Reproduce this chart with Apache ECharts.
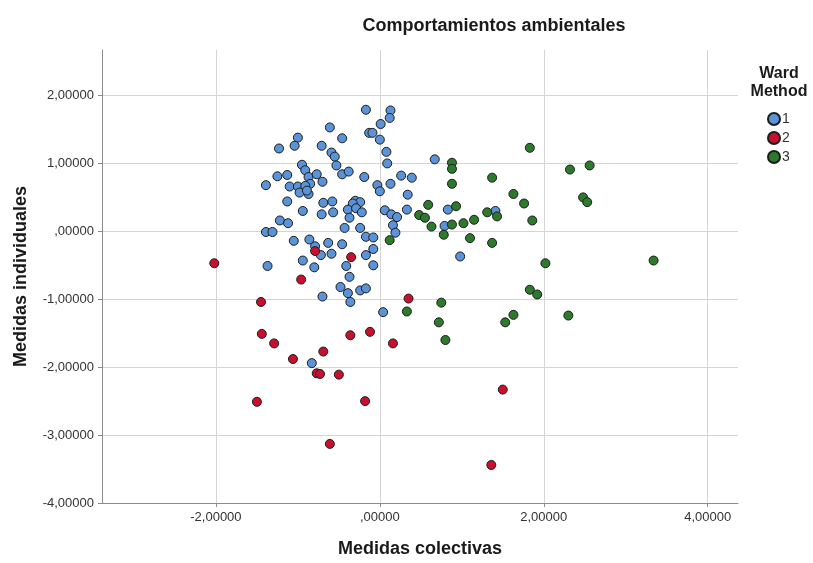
<!DOCTYPE html>
<html>
<head>
<meta charset="utf-8">
<script src="https://cdn.jsdelivr.net/npm/echarts@6/dist/echarts.min.js"></script>
<style>
  html, body { margin: 0; padding: 0; background: #ffffff; }
  #chart { width: 813px; height: 563px; }
</style>
</head>
<body>
<div id="chart"></div>
<script>
// Cluster scores: [Medidas colectivas, Medidas individuales]
const cluster1 = [
  [-0.17,1.79],[0.13,1.78],[0.12,1.67],[0.01,1.58],[-0.61,1.53],[-1.00,1.38],[-0.46,1.37],
  [-0.13,1.45],[-0.09,1.45],[0.00,1.35],[-1.23,1.22],[-1.04,1.26],[-0.71,1.26],[-0.59,1.16],
  [-0.55,1.10],[0.08,1.17],[0.09,1.00],[0.67,1.06],[-0.95,0.98],[-0.53,0.97],[-0.91,0.90],
  [-0.46,0.84],[-0.38,0.88],[-0.87,0.80],[-0.77,0.84],[-1.25,0.81],[-1.13,0.83],[-0.19,0.80],
  [0.26,0.82],[0.39,0.79],[-1.39,0.68],[-0.85,0.70],[-0.70,0.73],[-1.10,0.66],[-1.00,0.66],
  [-0.91,0.67],[-0.03,0.68],[0.13,0.70],[0.00,0.59],[-0.98,0.57],[-0.87,0.55],[-0.89,0.60],
  [0.34,0.54],[-1.13,0.44],[-0.69,0.42],[-0.58,0.44],[-0.30,0.45],[-0.24,0.43],[-0.33,0.41],
  [-0.94,0.30],[-0.71,0.25],[-0.57,0.28],[-0.39,0.32],[-0.29,0.34],[-0.22,0.28],[-0.37,0.20],
  [0.06,0.31],[0.14,0.25],[0.21,0.21],[0.33,0.32],[0.83,0.32],[1.41,0.30],[-1.22,0.16],
  [-1.12,0.12],[-0.43,0.05],[-0.24,0.05],[0.16,0.09],[0.19,-0.02],[0.79,0.08],[-1.39,-0.01],
  [-1.31,-0.01],[-0.17,-0.08],[-0.08,-0.09],[-1.05,-0.14],[-0.86,-0.12],[-0.63,-0.17],
  [-0.46,-0.19],[-0.79,-0.22],[-0.72,-0.35],[-0.59,-0.33],[-0.08,-0.26],[-0.17,-0.35],
  [0.98,-0.37],[-0.94,-0.43],[-1.37,-0.51],[-0.80,-0.53],[-0.41,-0.51],[-0.08,-0.50],
  [-0.37,-0.67],[-0.48,-0.82],[-0.39,-0.91],[-0.24,-0.87],[-0.17,-0.84],[-0.70,-0.96],
  [-0.36,-1.04],[0.04,-1.19],[-0.83,-1.94]
];
const cluster2 = [
  [-2.02,-0.47],[-0.79,-0.29],[-0.35,-0.38],[-0.96,-0.71],[-1.45,-1.04],[0.35,-0.99],
  [-1.44,-1.51],[-1.29,-1.65],[-0.36,-1.53],[-0.12,-1.48],[0.16,-1.65],[-1.06,-1.88],
  [-0.69,-1.77],[-0.77,-2.09],[-0.73,-2.10],[-0.50,-2.11],[-1.50,-2.51],[-0.18,-2.50],
  [1.50,-2.33],[-0.61,-3.13],[1.36,-3.44]
];
const cluster3 = [
  [1.83,1.23],[0.88,1.01],[0.88,0.92],[2.56,0.97],[2.32,0.91],[1.37,0.79],[0.88,0.70],
  [1.63,0.55],[2.48,0.50],[2.53,0.43],[1.76,0.41],[0.59,0.39],[0.93,0.37],[1.31,0.28],
  [1.43,0.22],[0.48,0.24],[0.55,0.20],[1.15,0.17],[1.86,0.16],[1.02,0.12],[0.88,0.10],
  [0.63,0.07],[0.78,-0.05],[1.10,-0.10],[0.12,-0.13],[1.37,-0.17],[2.02,-0.47],[3.34,-0.43],
  [1.83,-0.86],[1.92,-0.93],[0.75,-1.05],[0.33,-1.18],[1.63,-1.23],[1.53,-1.34],[2.30,-1.24],
  [0.72,-1.34],[0.80,-1.60]
];

const clusterNames = ['1', '2', '3'];
const clusterColors = ['#5b93d8', '#c8102e', '#2d7a2d'];
const xTicks = [-2, 0, 2, 4];
const yTicks = [-4, -3, -2, -1, 0, 1, 2];

// Spanish decimal format with five places, zero written as ",00000"
function fmt(v) {
  if (v === 0) return ',00000';
  return v.toFixed(5).replace('.', ',');
}

const font = 'Liberation Sans, Arial, sans-serif';
const chart = echarts.init(document.getElementById('chart'), null, { renderer: 'canvas' });

const seriesData = [cluster1, cluster2, cluster3];
chart.setOption({
  animation: false,
  backgroundColor: '#ffffff',
  title: [
    {
      text: 'Comportamientos ambientales',
      left: 489, top: 12, textAlign: 'center',
      textStyle: { fontFamily: font, fontSize: 18, fontWeight: 'bold', color: '#1a1a1a' }
    },
    {
      text: 'Ward\nMethod',
      left: 774, top: 60, textAlign: 'center',
      textStyle: { fontFamily: font, fontSize: 16, fontWeight: 'bold', color: '#1a1a1a', lineHeight: 18 }
    }
  ],
  legend: {
    orient: 'vertical',
    left: 762, top: 107,
    itemWidth: 12, itemHeight: 12, itemGap: 5,
    icon: 'circle',
    data: clusterNames,
    textStyle: { fontFamily: font, fontSize: 14, color: '#333', padding: [0, 0, 0, -3] }
  },
  grid: { left: 102, right: 75, top: 50, bottom: 56 },
  xAxis: {
    type: 'value', min: -3.39, max: 4.37,
    name: 'Medidas colectivas', nameLocation: 'middle', nameGap: 37,
    nameTextStyle: { fontFamily: font, fontSize: 18, fontWeight: 'bold', color: '#1a1a1a' },
    axisLine: { show: true, onZero: false, lineStyle: { color: '#8c8c8c', width: 1 } },
    axisTick: { show: true, length: 4, customValues: xTicks, lineStyle: { color: '#8c8c8c' } },
    axisLabel: { customValues: xTicks, formatter: fmt, margin: 8,
      fontFamily: font, fontSize: 13, color: '#333' },
    splitLine: { show: true, lineStyle: { color: '#d4d4d4', width: 1 } }
  },
  yAxis: {
    type: 'value', min: -4, max: 2.67,
    name: 'Medidas individuales', nameLocation: 'middle', nameGap: 72, nameRotate: 90,
    nameTextStyle: { fontFamily: font, fontSize: 18, fontWeight: 'bold', color: '#1a1a1a' },
    axisLine: { show: true, onZero: false, lineStyle: { color: '#8c8c8c', width: 1 } },
    axisTick: { show: true, length: 4, customValues: yTicks, lineStyle: { color: '#8c8c8c' } },
    axisLabel: { customValues: yTicks, formatter: fmt, margin: 8,
      fontFamily: font, fontSize: 13, color: '#333' },
    splitLine: { show: true, lineStyle: { color: '#d4d4d4', width: 1 } }
  },
  series: seriesData.map((d, i) => ({
    name: clusterNames[i],
    type: 'scatter',
    data: d,
    symbol: 'circle',
    symbolSize: 9,
    itemStyle: { color: clusterColors[i], borderColor: '#1c1c1c', borderWidth: 1, opacity: 1 }
  }))
});
</script>
</body>
</html>
